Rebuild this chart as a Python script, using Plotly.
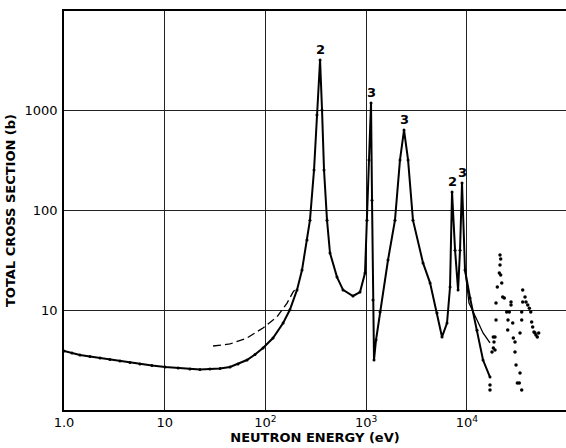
import plotly.graph_objects as go
import math

# Measured total cross section (main curve)
energy_meas = [1.0, 1.20, 1.44, 1.81, 2.28, 2.86, 3.60, 4.52, 5.68, 7.48, 10.1, 13.6, 17.8, 22.4,
               28.1, 35.4, 44.5, 53.4, 65.6, 78.8, 94.7, 119, 150, 175, 206, 231, 259, 277, 304,
               325, 349, 365, 382, 409, 438, 514, 590, 741, 870, 975, 1020, 1069, 1119, 1145,
               1170, 1198, 1254, 1374, 1650, 1935, 2170, 2380, 2610, 2920, 3675, 4315, 5060,
               5675, 6360, 6815, 7135, 7645, 8190, 8560, 8960, 9600, 10770, 12630, 14490, 16990]
sigma_meas = [3.90, 3.73, 3.56, 3.44, 3.32, 3.21, 3.10, 2.99, 2.89, 2.79, 2.70, 2.64, 2.58, 2.55,
              2.58, 2.61, 2.70, 2.89, 3.17, 3.60, 4.19, 5.27, 7.45, 10.1, 16, 25.3, 50.6, 80, 255,
              906, 3227, 1018, 255, 80, 37.5, 21.5, 16, 13.9, 15.2, 23.6, 80, 321, 1196, 127,
              12.7, 3.17, 5.03, 9.6, 31.9, 80, 321, 641, 321, 80, 29.8, 18.8, 9.4,
              5.4, 7.45, 17.1, 153, 40, 16, 40, 189, 25.3, 13.3, 6.3, 3.17, 2.14]

# Scattered high-energy measured points
energy_scatter = [21360, 21700, 21360, 21030, 21700, 22220, 20090, 22720, 23570, 19500, 24900,
                  26430, 25650, 19500, 25470, 27480, 27480, 28570, 28970, 30120, 30120, 30830,
                  31770, 33210, 33750, 35090, 33750, 35090, 35090, 35900, 35900, 37840, 38730,
                  40270, 41780, 43150, 44060, 45090, 46450, 48640, 50120, 51760, 47540, 19050,
                  18330, 18620, 18330, 17780, 19050, 16990, 16990]
sigma_scatter = [35.8, 32.6, 28.4, 23.6, 22.6, 18.8, 17.1, 13.6, 13.3, 11.8, 9.6,
                 9.6, 7.98, 7.98, 6.34, 12.1, 11.3, 7.45, 5.27, 4.81, 3.81, 2.83,
                 1.87, 1.87, 2.35, 1.59, 5.92, 7.98, 9.6, 12.1, 16, 13.6, 12.1,
                 11.3, 10.5, 9.6, 7.62, 6.79, 6.05, 5.65, 5.40, 5.92, 5.92, 5.40,
                 5.40, 4.81, 4.19, 3.81, 3.99, 1.78, 1.59]

# Theoretical (dashed) curves
energy_theory_low = [30.2, 44.5, 65.6, 94.7, 130, 164, 188, 206]
sigma_theory_low = [4.38, 4.59, 5.27, 6.64, 8.56, 11.8, 15.2, 17.1]
energy_theory_high = [9600, 10520, 12630, 14490, 16990]
sigma_theory_high = [25.3, 11.8, 7.98, 5.92, 4.7]

# Resonance spin labels
peak_labels = ["2", "3", "3", "2", "3"]
peak_energy = [349, 1119, 2380, 7135, 8960]
peak_sigma = [3227, 1196, 641, 153, 189]

x_tickvals = [1, 10, 100, 1000, 10000]
x_ticktext = ["1.0", "10", "10<sup>2</sup>", "10<sup>3</sup>", "10<sup>4</sup>"]
y_tickvals = [10, 100, 1000]
y_ticktext = ["10", "100", "1000"]

FONT = "DejaVu Sans"

fig = go.Figure()
fig.add_trace(go.Scatter(x=energy_theory_low, y=sigma_theory_low, mode="lines",
                         line=dict(color="black", width=1.3, dash="8px,4px"), hoverinfo="skip"))
fig.add_trace(go.Scatter(x=energy_theory_high, y=sigma_theory_high, mode="lines",
                         line=dict(color="black", width=1.3), hoverinfo="skip"))
fig.add_trace(go.Scatter(x=energy_meas, y=sigma_meas, mode="lines+markers",
                         line=dict(color="black", width=2),
                         marker=dict(color="black", size=3)))
fig.add_trace(go.Scatter(x=energy_scatter, y=sigma_scatter, mode="markers",
                         marker=dict(color="black", size=3.5)))

for lab, e, s in zip(peak_labels, peak_energy, peak_sigma):
    fig.add_annotation(x=math.log10(e), y=math.log10(s), text="<b>%s</b>" % lab,
                       showarrow=False, yanchor="bottom", yshift=1,
                       font=dict(family=FONT, size=13, color="black"))

fig.update_layout(
    width=566, height=448,
    margin=dict(l=64, r=0, t=11, b=38, autoexpand=False),
    paper_bgcolor="white", plot_bgcolor="white",
    showlegend=False,
    font=dict(family=FONT, color="black"),
)
fig.update_xaxes(type="log", range=[0, 4.985], automargin=False,
                 tickvals=x_tickvals, ticktext=x_ticktext,
                 tickfont=dict(family=FONT, size=13, color="black"),
                 showgrid=True, gridcolor="#222", gridwidth=1.2,
                 showline=True, linecolor="black", linewidth=1.5, mirror=True,
                 ticks="", zeroline=False,
                 title=dict(text="<b>NEUTRON ENERGY (eV)</b>", standoff=3,
                            font=dict(family=FONT, size=13, color="black")))
fig.update_yaxes(type="log", range=[0, 4], automargin=False,
                 tickvals=y_tickvals, ticktext=y_ticktext,
                 tickfont=dict(family=FONT, size=13, color="black"),
                 showgrid=True, gridcolor="#222", gridwidth=1.2,
                 showline=True, linecolor="black", linewidth=1.5, mirror=False,
                 ticks="", ticklabelstandoff=2, zeroline=False,
                 title=dict(text="<b>TOTAL CROSS SECTION (b)</b>", standoff=6,
                            font=dict(family=FONT, size=13, color="black")))

fig.write_html("out.html", config={"displayModeBar": False},
               post_script="document.body.style.margin='0';document.body.style.overflow='hidden';")
